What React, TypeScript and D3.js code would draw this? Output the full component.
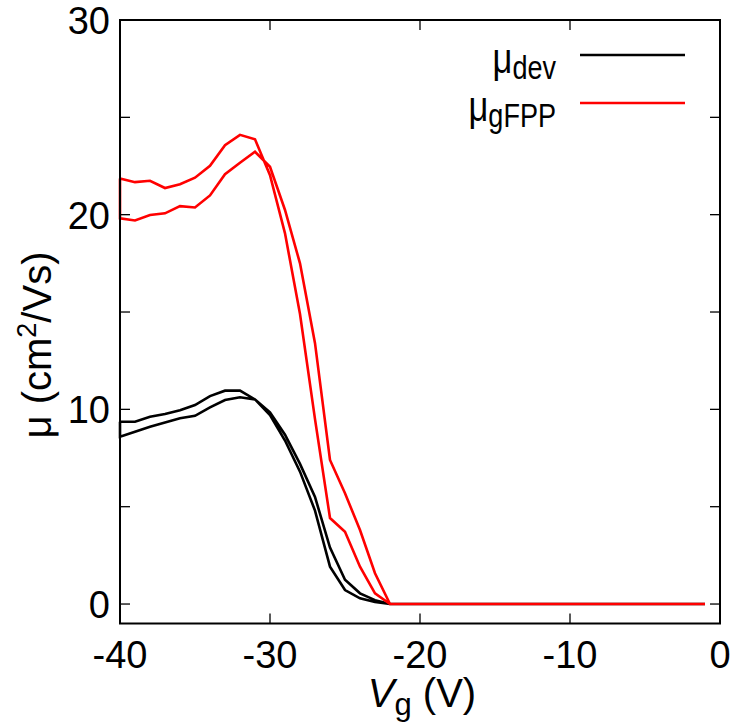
import React from 'react';
import * as d3 from 'd3';

const vg = [-40, -39, -38, -37, -36, -35, -34, -33, -32, -31, -30, -29, -28, -27, -26, -25, -24, -23, -22, -21,
  -20, -19, -18, -17, -16, -15, -14, -13, -12, -11, -10, -9, -8, -7, -6, -5, -4, -3, -2, -1];

const muGfppA = [21.86, 21.67, 21.74, 21.37, 21.56, 21.9, 22.51, 23.57, 24.1, 23.87, 22.03, 19.04, 14.9, 9.5, 4.42, 3.71, 1.92, 0.55, 0, 0,
  0, 0, 0, 0, 0, 0, 0, 0, 0, 0, 0, 0, 0, 0, 0, 0, 0, 0, 0, 0];
const muGfppB = [19.81, 19.7, 19.98, 20.07, 20.44, 20.37, 20.99, 22.08, 22.67, 23.23, 22.46, 20.24, 17.5, 13.4, 7.4, 5.69, 3.8, 1.58, 0, 0,
  0, 0, 0, 0, 0, 0, 0, 0, 0, 0, 0, 0, 0, 0, 0, 0, 0, 0, 0, 0];
const muDevA = [9.36, 9.36, 9.62, 9.76, 9.96, 10.22, 10.68, 10.96, 10.96, 10.51, 9.7, 8.4, 6.8, 4.8, 1.92, 0.72, 0.29, 0.1, 0, 0,
  0, 0, 0, 0, 0, 0, 0, 0, 0, 0, 0, 0, 0, 0, 0, 0, 0, 0, 0, 0];
const muDevB = [8.59, 8.85, 9.11, 9.33, 9.54, 9.67, 10.1, 10.48, 10.62, 10.51, 9.85, 8.7, 7.2, 5.5, 2.9, 1.25, 0.55, 0.2, 0, 0,
  0, 0, 0, 0, 0, 0, 0, 0, 0, 0, 0, 0, 0, 0, 0, 0, 0, 0, 0, 0];

const xTicks = [-40, -30, -20, -10, 0];
const yTicks = [0, 5, 10, 15, 20, 25, 30];
const yLabels = [0, 10, 20, 30];

const W = 738;
const H = 725;
const left = 120, right = 720, top = 20, bottom = 623.5;
const FONT = '"Liberation Sans", Arial, Helvetica, sans-serif';
const FS = 38;
const SUB = 31;

export default function App() {
  const x = d3.scaleLinear().domain([-40, 0]).range([left, right]);
  const y = d3.scaleLinear().domain([-1, 30]).range([bottom, top]);
  const line = d3.line<[number, number]>().x(d => x(d[0])).y(d => y(d[1]));

  const loop = (a: number[], b: number[]): [number, number][] => {
    const fwd = vg.map((v, i) => [v, a[i]] as [number, number]);
    const back = vg.map((v, i) => [v, b[i]] as [number, number]).reverse();
    return [...fwd, ...back, fwd[0]];
  };

  const tickLen = 10;

  return (
    <svg width={W} height={H} style={{ position: 'absolute', left: 0, top: 0, background: '#fff' }} fontFamily={FONT}>
      <rect x={0} y={0} width={W} height={H} fill="#fff" />
      {/* data */}
      <path d={line(loop(muDevA, muDevB)) || ''} fill="none" stroke="#000" strokeWidth={2.6} strokeLinejoin="miter" />
      <path d={line(loop(muGfppA, muGfppB)) || ''} fill="none" stroke="#ff0000" strokeWidth={2.6} strokeLinejoin="miter" />
      {/* ticks */}
      {xTicks.map(t => (
        <g key={'x' + t}>
          <line x1={x(t)} x2={x(t)} y1={bottom} y2={bottom - tickLen} stroke="#000" strokeWidth={1.3} />
          <line x1={x(t)} x2={x(t)} y1={top} y2={top + tickLen} stroke="#000" strokeWidth={1.3} />
          <text x={x(t)} y={668} textAnchor="middle" fontSize={FS}>{t}</text>
        </g>
      ))}
      {yTicks.map(t => (
        <g key={'y' + t}>
          <line x1={left} x2={left + tickLen} y1={y(t)} y2={y(t)} stroke="#000" strokeWidth={1.3} />
          <line x1={right} x2={right - tickLen} y1={y(t)} y2={y(t)} stroke="#000" strokeWidth={1.3} />
        </g>
      ))}
      {yLabels.map(t => (
        <text key={'yl' + t} x={110} y={y(t) + 14} textAnchor="end" fontSize={FS}>{t}</text>
      ))}
      {/* frame */}
      <rect x={left} y={top} width={right - left} height={bottom - top} fill="none" stroke="#000" strokeWidth={2} />
      {/* axis labels */}
      <text x={422} y={707} textAnchor="middle" fontSize={FS + 2}>
        <tspan fontStyle="italic">V</tspan>
        <tspan fontSize={SUB} dy={8}>g</tspan>
        <tspan dy={-8}> (V)</tspan>
      </text>
      <text transform="translate(51,345) rotate(-90)" textAnchor="middle" fontSize={FS + 2}>
        <tspan>μ (cm</tspan>
        <tspan fontSize={SUB - 4} dy={-15}>2</tspan>
        <tspan dy={15}>/Vs)</tspan>
      </text>
      {/* legend */}
      <g transform="translate(556,73) scale(0.82,1)">
        <text x={0} y={0} textAnchor="end" fontSize={FS + 4}>
          <tspan>μ</tspan>
          <tspan fontSize={SUB + 2} dy={6}>dev</tspan>
        </text>
      </g>
      <line x1={580} x2={685} y1={55} y2={55} stroke="#000" strokeWidth={2.6} />
      <g transform="translate(556,121) scale(0.82,1)">
        <text x={0} y={0} textAnchor="end" fontSize={FS + 4}>
          <tspan>μ</tspan>
          <tspan fontSize={SUB + 2} dy={6}>gFPP</tspan>
        </text>
      </g>
      <line x1={580} x2={685} y1={103} y2={103} stroke="#ff0000" strokeWidth={2.6} />
    </svg>
  );
}
